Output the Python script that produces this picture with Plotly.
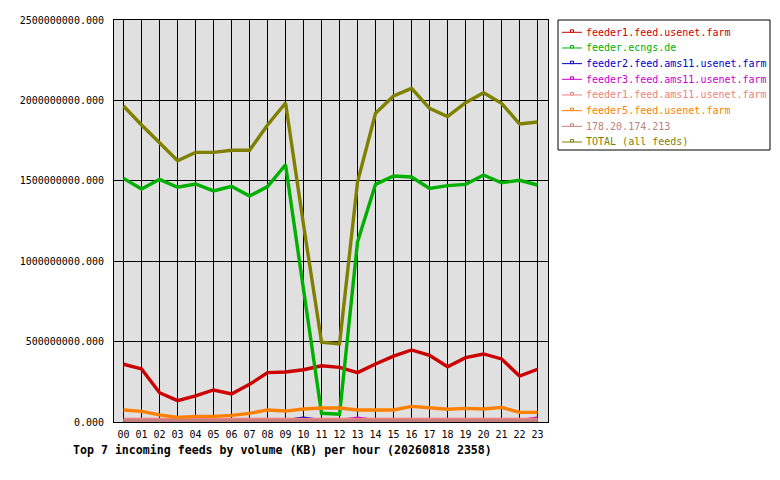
import plotly.graph_objects as go

hours = ["%02d" % h for h in range(24)]

series_names = [
    "feeder1.feed.usenet.farm",
    "feeder.ecngs.de",
    "feeder2.feed.ams11.usenet.farm",
    "feeder3.feed.ams11.usenet.farm",
    "feeder1.feed.ams11.usenet.farm",
    "feeder5.feed.usenet.farm",
    "178.20.174.213",
    "TOTAL (all feeds)",
]
series_colors = ["#cc0000", "#00b000", "#0000cc", "#cc00cc", "#f08080", "#ff8000", "#c08080", "#808000"]

M = 1e6
feeder1_usenet = [359, 330, 182, 133, 162, 199, 174, 234, 307, 311, 325, 350, 340, 307, 361, 410, 448, 415, 344, 400, 423, 392, 286, 328]
ecngs = [1515, 1449, 1509, 1460, 1480, 1437, 1466, 1405, 1464, 1600, 822, 54, 48, 1121, 1478, 1530, 1524, 1453, 1470, 1478, 1536, 1488, 1503, 1474]
feeder2_ams11 = [8, 8, 8, 8, 8, 8, 8, 8, 8, 8, 24, 8, 8, 8, 8, 8, 8, 8, 8, 8, 8, 8, 8, 8]
feeder3_ams11 = [8, 8, 8, 8, 8, 8, 8, 8, 8, 8, 8, 8, 8, 24, 8, 8, 8, 8, 8, 8, 8, 8, 8, 24]
feeder1_ams11 = [16, 16, 16, 16, 16, 16, 16, 16, 16, 16, 16, 16, 16, 16, 16, 16, 16, 12, 16, 16, 16, 16, 16, 16]
feeder5_usenet = [75, 66, 44, 29, 35, 35, 41, 54, 75, 68, 81, 87, 87, 75, 75, 75, 97, 89, 79, 85, 81, 91, 60, 60]
ip_feed = [7, 7, 7, 7, 7, 7, 7, 7, 7, 7, 7, 7, 7, 7, 7, 7, 7, 7, 7, 7, 7, 7, 7, 7]
total = [1965, 1847, 1737, 1625, 1677, 1677, 1690, 1690, 1847, 1984, 1225, 496, 485, 1494, 1920, 2027, 2075, 1951, 1899, 1986, 2048, 1982, 1853, 1866]

series_values = [feeder1_usenet, ecngs, feeder2_ams11, feeder3_ams11, feeder1_ams11, feeder5_usenet, ip_feed, total]

y_ticks = [0, 500000000, 1000000000, 1500000000, 2000000000, 2500000000]
title_text = "Top 7 incoming feeds by volume (KB) per hour (20260818 2358)"

MONO = "DejaVu Sans Mono"

# plot area in page pixels (page body has an 8px offset)
PX_L, PX_R, PX_T, PX_B = 114, 548, 20, 422
PW, PH = PX_R - PX_L, PX_B - PX_T


def px(xp):
    return (xp - PX_L) / PW


def py(yp):
    return (PX_B - yp) / PH


fig = go.Figure()
for name, color, vals in zip(series_names, series_colors, series_values):
    fig.add_trace(go.Scatter(
        x=hours, y=[v * M for v in vals], mode="lines", name=name,
        line=dict(color=color, width=3.4), showlegend=False, hoverinfo="skip",
    ))

# custom legend box (decoration)
shapes = [dict(type="rect", xref="paper", yref="paper",
               x0=px(558), x1=px(770), y0=py(150), y1=py(20),
               line=dict(color="black", width=1), fillcolor="white", layer="above")]
annotations = []
for i, (name, color) in enumerate(zip(series_names, series_colors)):
    yc = 32.3 + 15.67 * i
    shapes.append(dict(type="line", xref="paper", yref="paper",
                       x0=px(562), x1=px(582), y0=py(yc), y1=py(yc),
                       line=dict(color=color, width=1), layer="above"))
    shapes.append(dict(type="rect", xref="paper", yref="paper",
                       x0=px(570.5), x1=px(573.5), y0=py(yc), y1=py(yc - 2.5),
                       line=dict(color=color, width=1), fillcolor="white", layer="above"))
    annotations.append(dict(
        text=name, xref="paper", yref="paper", x=px(584), y=py(yc),
        xanchor="left", yanchor="middle", showarrow=False,
        font=dict(family=MONO, size=10, color=color),
    ))

annotations.append(dict(
    text="<b>%s</b>" % title_text, xref="paper", yref="paper",
    x=px(71), y=py(450), xanchor="left", yanchor="middle", showarrow=False,
    font=dict(family=MONO, size=11.6, color="black"),
))

FW, FH = 772, 472
fig.update_layout(
    width=FW, height=FH,
    margin=dict(l=PX_L - 8, r=FW - (PX_R - 8), t=PX_T - 8, b=FH - (PX_B - 8)),
    paper_bgcolor="white", plot_bgcolor="#e0e0e0",
    font=dict(family=MONO, size=10, color="black"),
    showlegend=False,
    xaxis=dict(
        type="category", range=[-0.53, 23.58], automargin=False,
        showgrid=True, gridcolor="black", gridwidth=1,
        showline=True, linecolor="black", linewidth=1, mirror=True,
        ticks="", ticklabelstandoff=3, tickfont=dict(family=MONO, size=10), zeroline=False,
    ),
    yaxis=dict(
        range=[0, 2500000000], tickvals=y_ticks, tickformat=".3f", automargin=False,
        showgrid=True, gridcolor="black", gridwidth=1,
        showline=True, linecolor="black", linewidth=1, mirror=True,
        ticks="", ticklabelstandoff=7, tickfont=dict(family=MONO, size=10), zeroline=False,
    ),
    shapes=shapes,
    annotations=annotations,
)

fig.write_html("out.html")
